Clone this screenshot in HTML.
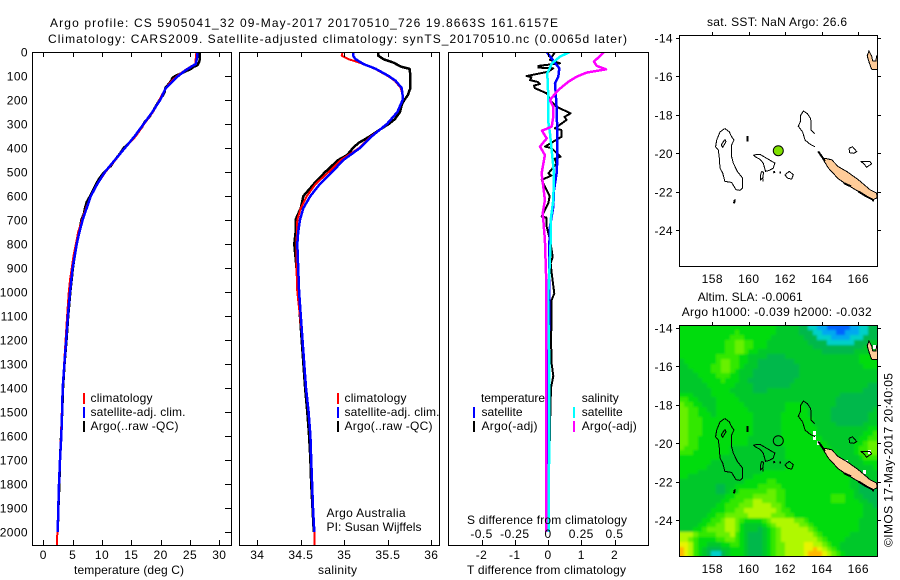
<!DOCTYPE html>
<html lang="en">
<head>
<meta charset="utf-8">
<title>Argo profile 5905041_32</title>
<style>
html,body{margin:0;padding:0;background:#fff;}
svg{display:block;}
text{font-family:"Liberation Sans",sans-serif;font-size:12px;fill:#000;}
.tl{letter-spacing:0.4px;}
</style>
</head>
<body>
<svg id="chart" xmlns="http://www.w3.org/2000/svg" width="900" height="580" viewBox="0 0 900 580">
<defs>
<clipPath id="clip-p1"><rect x="32" y="52" width="199" height="493"/></clipPath>
<clipPath id="clip-p2"><rect x="239" y="52" width="200" height="493"/></clipPath>
<clipPath id="clip-p3"><rect x="448" y="52" width="200" height="493"/></clipPath>
<clipPath id="clip-m1"><rect x="679" y="35" width="198" height="232"/></clipPath>
<clipPath id="clip-m2"><rect x="679" y="325" width="198" height="232"/></clipPath>
<filter id="soften" filterUnits="userSpaceOnUse" x="650" y="300" width="250" height="280"><feGaussianBlur stdDeviation="1"/></filter>
</defs>
<rect x="0" y="0" width="900" height="580" fill="#fff"/>
<text x="50" y="27" textLength="508" lengthAdjust="spacing">Argo profile: CS 5905041_32 09-May-2017 20170510_726 19.8663S 161.6157E</text>
<text x="48" y="43" textLength="579" lengthAdjust="spacing">Climatology: CARS2009. Satellite-adjusted climatology: synTS_20170510.nc (0.0065d later)</text>

<g clip-path="url(#clip-m2)">
<g id="heat" filter="url(#soften)"></g>
<g id="heatMissing"></g>
</g>
<g id="land1" clip-path="url(#clip-m1)"></g>
<g id="land2" clip-path="url(#clip-m2)"></g>
<g id="series1" clip-path="url(#clip-p1)"></g>
<g id="series2" clip-path="url(#clip-p2)"></g>
<g id="series3" clip-path="url(#clip-p3)"></g>
<g id="axes"></g>

<g shape-rendering="crispEdges" fill="none" stroke="#000" stroke-width="1">
<rect x="32.5" y="52.5" width="199" height="493"/>
<rect x="239.5" y="52.5" width="200" height="493"/>
<rect x="448.5" y="52.5" width="200" height="493"/>
<rect x="679.5" y="35.5" width="198" height="231"/>
<rect x="679.5" y="325.5" width="198" height="231"/>
</g>

<text x="74" y="574" textLength="110" lengthAdjust="spacing">temperature (deg C)</text>
<text x="318" y="574" textLength="39" lengthAdjust="spacing">salinity</text>
<text x="467" y="574" textLength="159" lengthAdjust="spacing">T difference from climatology</text>
<text x="467" y="524" textLength="160" lengthAdjust="spacing">S difference from climatology</text>

<g shape-rendering="crispEdges">
<rect x="83" y="393" width="2" height="11" fill="#ff0000"/>
<rect x="83" y="407" width="2" height="11" fill="#0000ff"/>
<rect x="83" y="421" width="2" height="11" fill="#000"/>
<text x="90.5" y="402" textLength="62" lengthAdjust="spacing">climatology</text>
<text x="90.5" y="416" textLength="95" lengthAdjust="spacing">satellite-adj. clim.</text>
<text x="90.5" y="430" textLength="88" lengthAdjust="spacing">Argo(..raw -QC)</text>
</g>
<g shape-rendering="crispEdges">
<rect x="337" y="393" width="2" height="11" fill="#ff0000"/>
<rect x="337" y="407" width="2" height="11" fill="#0000ff"/>
<rect x="337" y="421" width="2" height="11" fill="#000"/>
<text x="344.5" y="402" textLength="62" lengthAdjust="spacing">climatology</text>
<text x="344.5" y="416" textLength="95" lengthAdjust="spacing">satellite-adj. clim.</text>
<text x="344.5" y="430" textLength="88" lengthAdjust="spacing">Argo(..raw -QC)</text>
</g>
<text x="326.5" y="517" textLength="79" lengthAdjust="spacing">Argo Australia</text>
<text x="326.5" y="531" textLength="95" lengthAdjust="spacing">PI: Susan Wijffels</text>
<g shape-rendering="crispEdges">
<rect x="473" y="407" width="2" height="11" fill="#0000ff"/>
<rect x="473" y="421" width="2" height="11" fill="#000"/>
<rect x="573" y="407" width="2" height="11" fill="#00ffff"/>
<rect x="573" y="421" width="2" height="11" fill="#ff00ff"/>
<text x="481" y="402" textLength="64" lengthAdjust="spacing">temperature</text>
<text x="481.5" y="416" textLength="41" lengthAdjust="spacing">satellite</text>
<text x="481.5" y="430" textLength="56" lengthAdjust="spacing">Argo(-adj)</text>
<text x="581.7" y="402" textLength="37" lengthAdjust="spacing">salinity</text>
<text x="581.7" y="416" textLength="41" lengthAdjust="spacing">satellite</text>
<text x="581.7" y="430" textLength="55" lengthAdjust="spacing">Argo(-adj)</text>
</g>

<text x="707" y="26" textLength="140" lengthAdjust="spacing">sat. SST: NaN  Argo: 26.6</text>
<text x="697.7" y="301" textLength="105" lengthAdjust="spacing">Altim. SLA: -0.0061</text>
<text x="681.7" y="316" textLength="190" lengthAdjust="spacing">Argo h1000: -0.039 h2000: -0.032</text>
<text transform="translate(892.5,547) rotate(-90)" x="0" y="0" textLength="174" lengthAdjust="spacing">©IMOS 17-May-2017 20:40:05</text>
</svg>

<script>
// ---------- profile data ----------
const depthTicks = [0,100,200,300,400,500,600,700,800,900,1000,1100,1200,1300,1400,1500,1600,1700,1800,1900,2000];
const tempTicks = [0,5,10,15,20,25,30];
const salTicks = [34,34.5,35,35.5,36];
const salTickLabels = ['34','34.5','35','35.5','36'];
const tDiffTicks = [-2,-1,0,1,2];
const sDiffTicks = [-0.5,-0.25,0,0.25,0.5];
const sDiffTickLabels = ['-0.5','-0.25','0','0.25','0.5'];
const lonTicks = [158,160,162,164,166];
const latTicks = [-14,-16,-18,-20,-22,-24];

const argoTempDepth = [0,20,40,55,62,70,80,90,100,108,120,135,150,165,180,200,225,250,270,290,310,330,350,375,400,425,450,475,500,525,550,575,600,625,650,675,700,750,800,850,900,950,1000,1100,1200,1300,1400,1500,1600,1700,1800,1900,2000];
const argoTemp = [26.7,26.7,26.6,26.3,25.6,25.2,24.3,23.4,22.5,22,21.8,21.3,20.8,20.7,20.4,19.8,19.2,18.6,18.1,17.3,16.9,16.3,15.7,14.8,13.7,13,12.2,11.5,10.4,9.6,9,8.5,8,7.4,7.1,6.9,6.5,6.1,5.7,5.35,5.05,4.82,4.6,4.25,3.95,3.62,3.35,3.22,3.03,2.85,2.72,2.58,2.45];
const climTempDepth = [0,25,50,60,75,100,125,150,175,200,250,300,350,400,450,500,550,600,650,700,750,800,850,900,950,1000,1100,1200,1300,1400,1500,1600,1700,1800,1900,2000,2054];
const climTemp = [26.1,26,25.9,25.2,24.2,22.8,21.7,20.9,20.3,19.8,18.7,17.2,15.8,13.9,12.3,10.6,9.2,8.1,7.3,6.6,5.95,5.55,5.15,4.85,4.55,4.35,4.05,3.8,3.55,3.3,3.15,3,2.85,2.68,2.52,2.4,2.3];
const adjTempDepth = [0,25,50,60,75,100,125,150,175,200,250,300,350,400,450,500,550,600,650,700,750,800,850,900,950,1000,1100,1200,1300,1400,1500,1600,1700,1800,1900,2000];
const adjTemp = [26.25,26.2,26,25.3,24.3,23,21.9,20.9,20.4,19.9,18.6,17.1,15.6,13.9,12.2,10.5,9.2,8.1,7.4,6.7,6.15,5.7,5.35,5,4.77,4.55,4.2,3.9,3.6,3.3,3.2,3.07,2.85,2.68,2.56,2.45];

const argoSalDepth = [0,15,30,45,55,62,70,100,150,180,200,220,250,280,300,330,335,350,380,400,430,450,500,550,600,650,690,700,750,800,900,1000,1200,1400,1500,1600,1700,1800,1900,2000];
const argoSal = [35.39,35.39,35.45,35.57,35.62,35.66,35.75,35.76,35.76,35.73,35.69,35.66,35.64,35.58,35.51,35.38,35.36,35.3,35.16,35.1,35.03,34.93,34.78,34.65,34.53,34.5,34.45,34.44,34.44,34.425,34.45,34.47,34.51,34.55,34.575,34.595,34.61,34.62,34.635,34.65];
const climSalDepth = [0,15,30,45,70,100,120,150,180,200,250,300,350,400,450,500,550,600,650,700,800,900,1000,1200,1400,1500,1600,1700,1800,1900,2000,2054];
const climSal = [34.98,34.97,35.05,35.18,35.35,35.5,35.58,35.65,35.67,35.67,35.61,35.49,35.31,35.17,34.96,34.82,34.67,34.57,34.5,34.46,34.45,34.45,34.46,34.52,34.56,34.59,34.61,34.62,34.63,34.64,34.655,34.66];
const adjSalDepth = [0,15,30,50,70,100,120,150,180,200,250,300,350,400,450,500,550,600,650,700,750,800,900,1000,1200,1400,1500,1600,1700,1800,1900,2000];
const adjSal = [35.1,35.1,35.13,35.22,35.36,35.51,35.59,35.66,35.67,35.67,35.61,35.49,35.32,35.18,34.99,34.86,34.72,34.61,34.53,34.49,34.47,34.46,34.47,34.48,34.52,34.56,34.59,34.61,34.62,34.63,34.64,34.655];

const argoTDiffDepth = [0,33,47,58,65,68,82,100,105,117,125,133,140,151,172,185,200,228,256,270,283,318,325,353,394,400,436,445,464,506,515,533,575,600,631,686,690,728,783,853,880,922,1006,1033,1100,1200,1300,1350,1400,1500,1620];
const argoTDiff = [0.21,0.06,0.36,-0.29,-0.29,0.16,0.01,-0.64,-0.5,-0.54,-0.3,-0.24,-0.42,-0.39,-0.04,0.02,0.06,0.26,0.68,0.5,0.56,0.21,0.4,0.41,-0.09,0.1,0.38,0.2,0.26,0.01,0.1,-0.19,-0.04,0.05,0.01,-0.19,-0.05,-0.04,0.06,0.14,0.08,0.11,0.19,0.11,0.11,0.09,0.11,0.16,0.09,0.07,0.06];
const satTDiffDepth = [0,33,68,103,130,228,339,450,505,575,644,728,811,1033,1300,1600,2000];
const satTDiff = [-0.04,0.14,0.34,0.31,0.21,0.26,0.28,0.28,0.26,0.18,0.16,0.06,0.04,0.04,0.02,0.01,0.01];
const satSDiffDepth = [0,19,47,89,158,228,283,339,422,506,617,700,783,922,1033,1300,1600,2000];
const satSDiff = [0.165,0.09,0.03,-0.005,0,0,0,0.015,0.03,0.045,0.04,0.02,0.02,0.01,0,0.01,0.008,0.006];
const argoSDiffDepth = [0,19,40,58,72,86,103,124,158,200,228,269,311,328,360,394,429,506,561,617,672,700,783,922,1033,1300,1600,2000];
const argoSDiff = [0.42,0.386,0.346,0.366,0.436,0.29,0.215,0.153,0.078,0.015,0.04,0.04,0.028,-0.045,-0.01,-0.06,-0.023,-0.048,-0.035,-0.023,-0.04,-0.035,-0.023,-0.015,-0.015,-0.015,-0.015,-0.015];

// ---------- map data ----------
const floatLon = 161.6157;
const floatLat = -19.8663;
const reefOutlines = [
 [[158.69,-18.71],[158.93,-18.89],[159.06,-19.14],[159.19,-19.31],[159.06,-19.57],[159.06,-20.17],[159.15,-20.51],[159.37,-20.94],[159.66,-21.29],[159.66,-21.8],[159.52,-21.92],[159.3,-21.89],[159.06,-21.51],[158.69,-21.46],[158.57,-21.03],[158.42,-20.77],[158.38,-20.17],[158.33,-19.83],[158.18,-19.66],[158.24,-19.31],[158.42,-18.89],[158.69,-18.71]],
 [[158.69,-19.28],[158.75,-19.4],[158.57,-19.69],[158.49,-19.57],[158.69,-19.28]],
 [[160.25,-20.09],[160.61,-20.05],[160.89,-20.21],[161.12,-20.34],[161.43,-20.51],[161.34,-20.77],[161.12,-20.89],[160.92,-20.94],[160.79,-20.51],[160.61,-20.31],[160.34,-20.17],[160.25,-20.09]],
 [[160.7,-20.94],[160.81,-20.99],[160.76,-21.29],[160.65,-21.37],[160.65,-21.11],[160.7,-20.94]],
 [[160.76,-21.29],[160.78,-21.46]],
 [[161.98,-21.11],[162.22,-20.94],[162.44,-21.11],[162.35,-21.34],[162.11,-21.29],[161.98,-21.11]],
 [[163.63,-19.66],[163.35,-19.52],[163.08,-19.31],[162.95,-18.89],[162.71,-18.59],[162.84,-18.32],[162.84,-18.03],[162.99,-17.81],[163.21,-17.94],[163.39,-18.2],[163.41,-18.54],[163.42,-18.8],[163.61,-18.97]],
 [[165.49,-19.74],[165.69,-19.66],[165.91,-19.91],[165.76,-20],[165.53,-19.97],[165.49,-19.74]],
 [[166.13,-20.43],[166.64,-20.43],[166.73,-20.55],[166.46,-20.72],[166.27,-20.51],[166.13,-20.43]]
];
const islandPolygons = [
 [[164.17,-20.26],[164.54,-20.34],[164.9,-20.69],[165.36,-20.94],[166,-21.37],[166.64,-21.89],[167,-22.06],[167.04,-22.31],[166.82,-22.4],[166.46,-22.23],[166,-21.98],[165.36,-21.62],[164.9,-21.32],[164.36,-20.77],[164.08,-20.34]],
 [[166.58,-14.69],[166.73,-14.94],[166.79,-15.2],[166.97,-15.2],[167,-14.94],[167.04,-14.94],[167.04,-15.66],[166.73,-15.63],[166.6,-15.29],[166.49,-14.94]]
];
const thickReefs = [
 [[159.94,-19.11],[159.94,-19.4]],
 [[159.24,-22.4],[159.19,-22.6]],
 [[161.34,-20.99],[161.44,-20.95]],
 [[161.67,-20.99],[161.77,-20.99]],
 [[163.8,-19.9],[164.17,-20.4]],
 [[165.2,-21.55],[165.6,-21.72]],
 [[166,-21.98],[166.46,-22.25],[166.82,-22.42]],
 [[166.82,-22.42],[166.8,-22.5]]
];

// SLA colour level per cell, 48 rows of 43 columns, north to south
const slaRows = [
[5,5,5,5,5,5,5,5,5,5,5,5,5,5,5,5,5,5,5,5,5,4,4,4,4,4,3,3,2,2,1,1,0,0,0,0,0,1,1,2,2,3,3],
[5,5,5,5,5,5,5,5,5,5,5,5,6,5,5,5,5,5,5,5,5,4,4,4,4,4,3,3,3,2,2,1,1,1,0,0,1,1,1,2,2,3,3],
[5,5,5,5,5,5,5,5,5,5,5,6,6,6,5,5,5,5,5,5,4,4,4,4,4,4,4,3,3,3,2,2,2,1,1,1,1,2,2,2,3,3,3],
[5,5,5,5,5,5,5,5,5,5,6,6,7,7,6,6,5,5,5,4,4,4,4,4,4,4,4,4,3,3,3,3,2,2,2,2,2,2,3,3,3,4,4],
[5,5,5,5,5,5,5,5,5,5,6,6,7,7,6,6,5,5,5,4,4,4,4,4,4,4,4,4,4,3,3,3,3,3,3,3,3,3,3,3,4,4,4],
[5,5,5,5,5,5,5,5,5,5,6,6,7,7,6,5,5,4,4,4,4,4,4,4,4,4,4,4,4,4,4,3,3,3,3,3,3,3,4,4,4,4,5],
[5,5,5,5,5,5,5,5,6,6,6,6,6,5,5,4,4,4,4,3,3,3,3,4,4,4,4,4,4,4,4,4,4,4,4,4,4,4,4,5,5,5,5],
[4,5,5,5,5,5,5,5,6,7,7,6,6,5,5,4,4,3,3,3,3,3,3,3,3,4,4,4,4,4,4,4,4,4,4,4,4,4,4,5,5,5,5],
[4,4,5,5,5,5,5,6,6,7,7,6,6,5,4,4,4,3,3,3,3,3,3,3,3,3,4,4,4,4,4,4,4,4,4,4,4,4,4,4,5,5,5],
[4,4,4,5,5,5,5,6,6,7,7,6,5,4,4,4,3,3,3,3,3,3,3,3,3,3,4,4,4,4,4,4,4,4,4,4,4,4,4,4,4,4,4],
[4,4,4,4,5,5,5,5,6,6,6,5,5,4,4,4,3,3,3,3,3,3,3,3,3,3,4,4,4,4,4,4,4,4,4,4,4,4,4,4,4,4,4],
[4,4,4,4,4,5,5,5,5,6,5,5,5,4,4,3,3,3,3,3,3,3,3,3,3,4,4,4,4,4,4,4,4,4,4,4,4,4,4,4,4,4,4],
[4,4,4,4,4,4,5,5,5,5,5,5,4,4,4,4,3,3,3,3,3,3,3,3,4,4,4,4,4,4,4,4,4,4,4,4,4,4,4,4,4,3,3],
[4,4,4,4,4,4,4,5,5,5,5,4,4,4,4,4,3,3,3,4,4,4,4,4,4,4,4,4,4,4,4,4,4,4,4,4,4,4,4,4,3,3,3],
[5,5,5,4,4,4,4,5,5,5,5,5,4,4,4,4,4,4,4,4,4,4,4,4,4,4,4,4,4,4,4,4,4,4,4,3,3,3,3,3,3,3,3],
[6,6,5,5,4,4,4,4,5,5,5,5,5,4,4,4,4,4,4,4,4,4,4,4,4,4,4,4,4,4,4,4,4,4,3,3,3,3,3,3,3,3,3],
[7,6,6,5,5,4,4,4,5,5,5,5,5,5,4,4,4,4,4,4,4,4,4,5,5,5,5,4,4,4,4,4,4,4,3,3,3,3,3,3,3,3,3],
[7,7,6,6,5,5,4,4,5,5,5,5,5,5,5,4,4,4,4,4,4,4,4,5,5,5,5,5,4,4,4,4,4,3,3,3,3,3,3,3,3,3,4],
[7,7,6,6,5,5,5,4,5,5,5,5,5,5,5,5,4,4,4,4,4,4,5,5,5,5,5,5,4,4,4,4,4,3,3,3,3,3,3,3,3,4,4],
[7,7,6,6,6,5,5,5,5,5,5,5,5,5,5,5,4,4,4,4,4,4,5,5,5,5,5,5,5,4,4,4,4,3,3,3,3,3,3,3,3,4,4],
[7,7,6,6,6,5,5,5,5,5,5,5,5,5,5,5,4,4,4,4,4,4,5,5,5,5,5,5,5,4,4,4,4,4,3,3,3,3,3,3,4,4,4],
[7,7,6,6,6,5,5,5,5,5,5,5,5,5,5,5,4,4,4,4,4,4,5,5,5,5,5,5,5,5,4,4,4,4,4,4,4,4,4,4,4,5,5],
[7,7,6,6,6,5,5,5,5,5,5,5,5,5,5,5,4,4,4,4,4,4,5,5,5,5,5,5,5,5,4,4,4,4,4,4,4,4,4,4,5,5,6],
[7,7,6,6,5,5,5,5,5,5,5,5,5,5,5,4,4,4,4,4,4,4,5,5,5,5,5,5,5,5,5,4,4,4,4,4,4,4,4,5,5,6,6],
[7,7,6,6,5,5,5,5,5,5,5,5,5,5,5,4,4,4,4,4,4,4,5,5,5,5,5,5,5,5,5,5,4,4,4,4,4,4,5,5,6,7,7],
[7,6,6,6,5,5,5,5,5,5,5,4,4,4,4,4,4,4,4,4,4,4,4,5,5,5,5,5,5,5,5,5,5,4,4,4,4,4,5,6,6,7,7],
[6,6,6,5,5,5,5,5,5,5,5,4,4,4,4,4,4,4,4,4,4,4,4,5,5,5,5,5,5,5,5,5,5,5,4,4,4,4,5,6,6,7,7],
[5,5,5,5,5,5,5,5,5,4,4,4,4,4,4,4,4,4,4,4,4,4,4,5,5,5,5,5,5,5,5,5,5,5,5,4,4,4,4,5,6,6,6],
[5,5,5,5,5,5,5,4,4,4,4,4,4,4,4,4,4,4,4,4,4,4,4,4,5,5,5,5,5,5,5,5,5,5,5,4,4,4,4,4,5,5,5],
[5,5,5,5,5,5,4,4,4,4,4,4,4,4,4,4,4,4,4,4,4,4,4,5,5,5,5,5,5,5,5,5,5,5,5,5,4,4,4,4,4,4,5],
[5,5,5,5,4,4,4,4,4,4,4,4,4,4,4,4,4,4,5,5,5,5,5,5,5,5,5,5,5,5,5,5,5,5,5,5,4,4,4,4,4,4,4],
[5,5,4,4,4,4,4,4,4,4,4,4,4,4,4,4,5,5,5,5,5,5,5,5,5,5,5,5,5,5,5,5,5,5,5,5,5,4,4,4,4,4,4],
[4,4,4,4,4,4,4,4,4,4,4,4,4,4,5,5,5,5,5,6,6,5,5,5,5,5,5,5,5,5,5,5,5,5,5,5,5,4,4,3,3,4,4],
[4,4,4,4,4,4,4,4,3,3,4,4,5,5,5,5,5,6,6,6,6,6,5,5,5,5,5,5,5,5,5,5,5,5,5,5,5,4,4,3,3,3,3],
[4,4,4,4,4,4,4,4,3,3,4,5,5,6,6,6,6,6,6,7,7,6,6,5,5,5,5,5,5,5,5,5,5,5,5,5,5,5,4,3,3,3,3],
[4,4,4,4,4,4,4,4,4,4,5,5,6,6,6,6,7,7,7,7,7,6,6,5,5,5,5,5,5,5,5,5,5,6,6,6,5,5,4,4,3,3,3],
[4,4,4,4,4,4,4,4,4,5,5,6,6,6,7,7,8,8,7,7,7,6,6,5,5,5,5,5,5,5,5,5,5,6,6,6,5,5,5,4,4,3,3],
[4,4,4,4,4,4,4,4,5,5,6,6,6,7,7,7,8,8,8,8,7,7,6,5,5,5,5,5,5,5,5,5,5,5,5,5,5,5,5,5,4,4,3],
[4,4,4,4,4,4,4,5,5,5,6,6,7,7,8,8,8,8,8,8,8,7,6,6,5,5,5,5,5,5,5,5,5,5,5,5,5,5,5,5,4,4,4],
[4,4,4,4,4,4,5,5,6,6,7,7,7,7,7,8,8,8,8,8,7,7,7,6,6,5,5,5,5,5,5,5,5,5,5,5,5,5,5,5,4,4,4],
[4,4,4,4,4,5,5,6,6,7,8,8,7,6,5,5,5,5,6,7,8,8,8,8,8,7,7,6,5,5,5,5,5,5,5,5,5,5,5,4,4,4,4],
[4,4,4,4,5,5,6,6,7,7,8,8,7,5,4,4,4,4,5,6,7,8,8,8,8,8,7,7,6,5,5,5,5,5,5,5,5,5,5,4,4,4,4],
[4,4,4,5,5,6,7,7,7,7,8,8,7,5,4,4,4,3,4,5,6,7,8,8,8,8,8,8,7,6,5,5,5,5,5,5,5,5,5,4,4,4,4],
[8,8,8,7,6,6,6,6,7,7,7,8,6,5,4,3,3,3,4,5,6,7,8,8,8,8,8,8,8,7,6,5,5,5,5,5,5,4,4,4,4,4,4],
[8,8,7,6,5,5,5,5,6,6,7,7,6,5,4,3,3,3,4,5,6,7,8,8,8,8,8,8,8,8,7,6,5,5,5,5,4,4,4,4,4,4,4],
[9,9,8,6,5,5,4,4,4,5,5,6,6,5,4,3,3,3,4,5,6,7,7,8,8,8,8,9,9,8,8,7,6,5,5,4,4,4,4,4,4,4,4],
[10,9,8,6,5,4,3,3,3,4,4,5,5,5,4,3,3,3,4,5,6,7,7,8,8,8,8,9,9,10,9,8,7,6,5,4,4,4,4,4,4,4,4],
[10,9,8,6,5,4,3,2,2,3,4,5,5,5,4,3,3,3,4,5,6,7,7,8,8,8,8,9,10,10,10,9,8,7,6,5,4,4,4,4,4,4,4]
];
const slaMissingCols = [29,29,30,36,40,41,41,42];
const slaMissingRows = [22,23,24,28,30,26,4,4];
const slaPalette = ['#0064ff','#00a8f0','#00d0c8','#00b84c','#00c82c','#00dc08','#30e800','#68f000','#b0f800','#e8f400','#ffb800'];

// ---------- axis functions ----------
const NS = 'http://www.w3.org/2000/svg';
const yDepth = d => 52 + 0.24 * d;
const xTemp = t => 43.3 + 5.867 * t;
const xSal = s => 344.3 + 87 * (s - 35);
const xTDiff = t => 548 + 33.25 * t;
const xSDiff = s => 548 + 133 * s;
const xLon = l => 712.3 + 18.25 * (l - 158);
const yLat = (l, off) => off + 37.8 + 19.25 * (-14 - l);
const LAT_TOP = -13.87, CELL_LAT = 0.25, LON_LEFT = 156.19, CELL_LON = 0.2523;

function make(tag, parent, attrs) {
  const el = document.createElementNS(NS, tag);
  for (const k in attrs) el.setAttribute(k, attrs[k]);
  parent.appendChild(el);
  return el;
}
function profilePoints(depths, values, xf) {
  return depths.map((d, i) => xf(values[i]).toFixed(1) + ',' + yDepth(d).toFixed(1)).join(' ');
}
function lineAttrs(points, color, width) {
  return {points: points, fill: 'none', stroke: color, 'stroke-width': width, 'stroke-linejoin': 'round', 'shape-rendering': 'crispEdges'};
}

// ---------- profile series ----------
const s1 = document.getElementById('series1');
const s2 = document.getElementById('series2');
const s3 = document.getElementById('series3');
let el;
el = make('polyline', s1, lineAttrs(profilePoints(argoTempDepth, argoTemp, xTemp), '#000', 2.5));


el = make('polyline', s1, lineAttrs(profilePoints(climTempDepth, climTemp, xTemp), '#ff0000', 2));


el = make('polyline', s1, lineAttrs(profilePoints(adjTempDepth, adjTemp, xTemp), '#0000ff', 2.5));



el = make('polyline', s2, lineAttrs(profilePoints(argoSalDepth, argoSal, xSal), '#000', 2.5));


el = make('polyline', s2, lineAttrs(profilePoints(climSalDepth, climSal, xSal), '#ff0000', 2));


el = make('polyline', s2, lineAttrs(profilePoints(adjSalDepth, adjSal, xSal), '#0000ff', 2.5));



el = make('polyline', s3, lineAttrs(profilePoints(argoTDiffDepth, argoTDiff, xTDiff), '#000', 2));


el = make('polyline', s3, lineAttrs(profilePoints(satTDiffDepth, satTDiff, xTDiff), '#0000ff', 2.5));


el = make('polyline', s3, lineAttrs(profilePoints(satSDiffDepth, satSDiff, xSDiff), '#00ffff', 2.5));


el = make('polyline', s3, lineAttrs(profilePoints(argoSDiffDepth, argoSDiff, xSDiff), '#ff00ff', 2.5));



// ---------- heatmap ----------
const heat = document.getElementById('heat');
const heatMissing = document.getElementById('heatMissing');
slaRows.forEach((row, r) => {
  row.forEach((v, c) => {
    const lonL = LON_LEFT + c * CELL_LON;
    const latT = LAT_TOP - r * CELL_LAT;
    const x0 = Math.round(xLon(lonL)) - (c === 0 ? 8 : 0);
    const y0 = Math.round(yLat(latT, 290)) - (r === 0 ? 8 : 0);
    const x1 = Math.round(xLon(lonL + CELL_LON)) + (c === row.length - 1 ? 8 : 0);
    const y1 = Math.round(yLat(latT - CELL_LAT, 290)) + (r === slaRows.length - 1 ? 8 : 0);
    const cell = make('rect', heat, {x: x0, y: y0, width: x1 - x0, height: y1 - y0, fill: slaPalette[v], 'shape-rendering': 'crispEdges'});
    
    
  });
});
slaMissingCols.forEach((c, i) => {
  const lonL = LON_LEFT + c * CELL_LON;
  const latT = LAT_TOP - slaMissingRows[i] * CELL_LAT;
  const cell = make('rect', heatMissing, {x: Math.round(xLon(lonL)), y: Math.round(yLat(latT, 290)), width: 3, height: 4, fill: '#fff', 'shape-rendering': 'crispEdges'});
  
  
});

// ---------- coastlines ----------
function geoPoints(coords, off) {
  return coords.map(p => xLon(p[0]).toFixed(1) + ',' + yLat(p[1], off).toFixed(1)).join(' ');
}
function drawLand(group, off) {
  islandPolygons.forEach(poly => {
    const land = make('polygon', group, {points: geoPoints(poly, off), fill: '#ffcc99', stroke: '#000', 'stroke-width': 1, 'shape-rendering': 'crispEdges'});
    
    
  });
  reefOutlines.forEach(line => {
    const reef = make('polyline', group, {points: geoPoints(line, off), fill: 'none', stroke: '#000', 'stroke-width': 1, 'shape-rendering': 'crispEdges'});
    
    
  });
  thickReefs.forEach(line => {
    const thick = make('polyline', group, {points: geoPoints(line, off), fill: 'none', stroke: '#000', 'stroke-width': 2, 'shape-rendering': 'crispEdges'});
    
    
  });
}
const land1 = document.getElementById('land1');
const land2 = document.getElementById('land2');
drawLand(land1, 0);
drawLand(land2, 290);
el = make('circle', land1, {cx: xLon(floatLon), cy: yLat(floatLat, 0), r: 5, fill: '#7fe000', stroke: '#000', 'stroke-width': 1});


el = make('circle', land2, {cx: xLon(floatLon), cy: yLat(floatLat, 290), r: 5, fill: 'none', stroke: '#000', 'stroke-width': 1});



// ---------- ticks and labels ----------
const axes = document.getElementById('axes');
function tick(x1, y1, x2, y2) {
  return make('line', axes, {x1: x1, y1: y1, x2: x2, y2: y2, stroke: '#000', 'stroke-width': 1, 'shape-rendering': 'crispEdges'});
}
function label(x, y, txt, anchor) {
  const t = make('text', axes, {x: x, y: y, 'text-anchor': anchor, class: 'tl'});
  t.textContent = txt;
  return t;
}
depthTicks.forEach(d => {
  const y = Math.round(yDepth(d)) + 0.5;
  const tk = tick(225, y, 231, y);
  
  
  const lb = label(28, yDepth(d) + 4.5, String(d), 'end');
  
  
});
tempTicks.forEach(t => {
  const x = Math.round(xTemp(t)) + 0.5;
  const a = tick(x, 52, x, 57);
  
  
  const b = tick(x, 540, x, 545);
  
  
  const lb = label(xTemp(t), 559, String(t), 'middle');
  
  
});
salTicks.forEach((s, i) => {
  const x = Math.round(xSal(s)) + 0.5;
  const a = tick(x, 52, x, 57);
  
  
  const b = tick(x, 540, x, 545);
  
  
  const lb = label(xSal(s), 559, salTickLabels[i], 'middle');
  
  
});
tDiffTicks.forEach(t => {
  const x = Math.round(xTDiff(t)) + 0.5;
  const a = tick(x, 52, x, 57);
  
  
  const b = tick(x, 540, x, 545);
  
  
  const lb = label(xTDiff(t), 559, String(t), 'middle');
  
  
});
sDiffTicks.forEach((s, i) => {
  const lb = label(xSDiff(s), 538, sDiffTickLabels[i], 'middle');
  
  
});
[0, 290].forEach(off => {
  lonTicks.forEach(l => {
    const x = Math.round(xLon(l)) + 0.5;
    const a = tick(x, off === 0 ? 32 : 322, x, off === 0 ? 35 : 325);
    
    
    const lb = label(xLon(l), 283 + off, String(l), 'middle');
    
    
  });
  latTicks.forEach(l => {
    const y = Math.round(yLat(l, off)) + 0.5;
    const a = tick(676, y, 679, y);
    
    
    const b = tick(878, y, 881, y);
    
    
    const lb = label(673, yLat(l, off) + 4.5, String(l), 'end');
    
    
  });
});
</script>
</body>
</html>
